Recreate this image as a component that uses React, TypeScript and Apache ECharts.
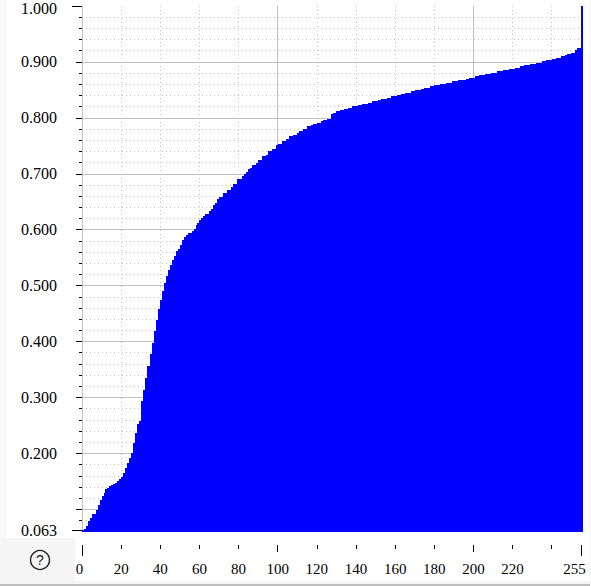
import React, { useEffect, useRef } from "react";
import * as echarts from "echarts";

// Cumulative level (index 0..255)
const levels: number[] = [
  0.063, 0.065, 0.07, 0.079, 0.084, 0.092, 0.092, 0.099, 0.108, 0.117,
  0.124, 0.129, 0.136, 0.138, 0.142, 0.143, 0.145, 0.147, 0.151, 0.154,
  0.158, 0.165, 0.174, 0.183, 0.192, 0.201, 0.218, 0.236, 0.252, 0.258,
  0.294, 0.313, 0.335, 0.356, 0.356, 0.378, 0.397, 0.419, 0.438, 0.458,
  0.474, 0.49, 0.505, 0.517, 0.528, 0.537, 0.546, 0.553, 0.562, 0.565,
  0.572, 0.581, 0.587, 0.59, 0.594, 0.594, 0.598, 0.601, 0.608, 0.612,
  0.617, 0.621, 0.624, 0.628, 0.628, 0.633, 0.637, 0.644, 0.648, 0.655,
  0.658, 0.658, 0.666, 0.666, 0.671, 0.671, 0.676, 0.682, 0.682, 0.691,
  0.691, 0.691, 0.696, 0.7, 0.703, 0.709, 0.71, 0.716, 0.716, 0.719,
  0.725, 0.725, 0.732, 0.732, 0.734, 0.741, 0.741, 0.744, 0.744, 0.751,
  0.753, 0.753, 0.758, 0.758, 0.762, 0.762, 0.767, 0.767, 0.769, 0.769,
  0.773, 0.776, 0.776, 0.78, 0.78, 0.785, 0.785, 0.787, 0.789, 0.789,
  0.791, 0.791, 0.794, 0.796, 0.796, 0.798, 0.798, 0.807, 0.809, 0.809,
  0.812, 0.812, 0.814, 0.814, 0.816, 0.816, 0.818, 0.818, 0.821, 0.821,
  0.821, 0.823, 0.823, 0.825, 0.825, 0.825, 0.826, 0.826, 0.83, 0.83,
  0.83, 0.832, 0.832, 0.834, 0.834, 0.834, 0.835, 0.835, 0.839, 0.839,
  0.839, 0.841, 0.841, 0.843, 0.843, 0.844, 0.844, 0.844, 0.848, 0.848,
  0.85, 0.85, 0.85, 0.852, 0.852, 0.853, 0.853, 0.853, 0.857, 0.857,
  0.859, 0.859, 0.859, 0.86, 0.86, 0.86, 0.862, 0.862, 0.862, 0.866,
  0.866, 0.866, 0.868, 0.868, 0.868, 0.868, 0.869, 0.869, 0.871, 0.871,
  0.871, 0.875, 0.875, 0.877, 0.877, 0.877, 0.878, 0.878, 0.878, 0.88,
  0.88, 0.88, 0.884, 0.884, 0.884, 0.885, 0.885, 0.885, 0.887, 0.887,
  0.887, 0.889, 0.889, 0.889, 0.893, 0.893, 0.894, 0.894, 0.894, 0.896,
  0.896, 0.896, 0.898, 0.898, 0.898, 0.902, 0.902, 0.903, 0.903, 0.903,
  0.905, 0.905, 0.907, 0.907, 0.907, 0.911, 0.911, 0.912, 0.914, 0.914,
  0.916, 0.916, 0.921, 0.925, 0.925, 1.0,
];

const yLabelValues = [0.063, 0.2, 0.3, 0.4, 0.5, 0.6, 0.7, 0.8, 0.9, 1.0];
const yEndTicks = [0.063, 1.0];
const yMajorTicks = [0.1, 0.2, 0.3, 0.4, 0.5, 0.6, 0.7, 0.8, 0.9];
const yMinorTicks = [
  0.08, 0.12, 0.14, 0.16, 0.18, 0.22, 0.24, 0.26, 0.28, 0.32, 0.34, 0.36, 0.38,
  0.42, 0.44, 0.46, 0.48, 0.52, 0.54, 0.56, 0.58, 0.62, 0.64, 0.66, 0.68, 0.72,
  0.74, 0.76, 0.78, 0.82, 0.84, 0.86, 0.88, 0.92, 0.94, 0.96, 0.98,
];
const xLabelValues = [0, 20, 40, 60, 80, 100, 120, 140, 160, 180, 200, 220, 255];
const xEndTicks = [0, 255];
const xMajorTicks = [0, 100, 200];
const xMinorTicks = [20, 40, 60, 80, 120, 140, 160, 180, 220, 240];

const FONT = "'Liberation Serif', serif";
const GRID = "#c0c0c0";
const BLUE = "#0000ff";

const hidden = { show: false };

function yAxisOf(ticks: number[], len: number, extra: any = {}) {
  return {
    type: "value",
    min: 0.063,
    max: 1,
    position: "left",
    offset: 14,
    axisLine: hidden,
    axisTick: { show: true, customValues: ticks, length: len, lineStyle: { color: "#000", width: 1 } },
    axisLabel: hidden,
    splitLine: hidden,
    ...extra,
  };
}

function xAxisOf(ticks: number[], len: number, extra: any = {}) {
  return {
    type: "value",
    min: 0,
    max: 256,
    position: "bottom",
    offset: 15,
    axisLine: hidden,
    axisTick: { show: true, customValues: ticks, length: len, lineStyle: { color: "#000", width: 1 } },
    axisLabel: hidden,
    splitLine: hidden,
    ...extra,
  };
}

export default function App() {
  const ref = useRef<HTMLDivElement>(null);
  useEffect(() => {
    const chart = echarts.init(ref.current!, null, { renderer: "svg" });
    chart.setOption({
      animation: false,
      backgroundColor: "#ffffff",
      grid: { left: 82, top: 6, width: 501, height: 524 },
      xAxis: [
        xAxisOf(xMinorTicks, 4, {
          splitLine: { show: true, lineStyle: { color: GRID, width: 1, type: [1, 3] } },
        }),
        xAxisOf(xMajorTicks, 7, {
          splitLine: { show: true, lineStyle: { color: GRID, width: 1 } },
        }),
        xAxisOf(xEndTicks, 11, {
          axisLabel: {
            show: true,
            customValues: xLabelValues,
            margin: 16,
            color: "#000",
            fontFamily: FONT,
            fontSize: 15,
            hideOverlap: false,
            formatter: (v: number) => (v === 255 ? `{r|${v}}` : v === 0 ? `{z|${v}}` : `${v}`),
            rich: {
              r: { padding: [0, 13, 0, 0], color: "#000", fontFamily: FONT, fontSize: 15 },
              z: { padding: [0, 5, 0, 0], color: "#000", fontFamily: FONT, fontSize: 15 },
            },
          },
        }),
      ],
      yAxis: [
        yAxisOf(yMinorTicks, 3, {
          splitLine: { show: true, lineStyle: { color: GRID, width: 1, type: [1, 3] } },
        }),
        yAxisOf(yMajorTicks, 6, {
          splitLine: { show: true, lineStyle: { color: GRID, width: 1 } },
        }),
        yAxisOf(yEndTicks, 10, {
          axisLabel: {
            show: true,
            customValues: yLabelValues,
            margin: 11,
            color: "#000",
            fontFamily: FONT,
            fontSize: 16,
            hideOverlap: false,
            formatter: (v: number) => (v === 1 ? `{t|${v.toFixed(3)}}` : v.toFixed(3)),
            rich: {
              t: { padding: [5, 0, 0, 0], color: "#000", fontFamily: FONT, fontSize: 16 },
            },
          },
        }),
      ],
      series: [
        {
          type: "custom",
          xAxisIndex: 0,
          yAxisIndex: 0,
          z: 5,
          silent: true,
          data: levels.map((v, i) => [i, v]),
          encode: { x: 0, y: 1 },
          clip: false,
          renderItem: (_p: any, api: any) => {
            const i = api.value(0);
            const top = api.coord([i, api.value(1)]);
            const right = api.coord([i + 1, 0.063]);
            const x0 = Math.round(top[0]);
            const y0 = Math.round(top[1]);
            return {
              type: "rect",
              shape: {
                x: x0,
                y: y0,
                width: Math.round(right[0]) - x0,
                height: Math.round(right[1]) + 2 - y0,
              },
              style: { fill: BLUE, stroke: "none" },
            };
          },
        },
      ],
      graphic: [
        { type: "rect", silent: true, shape: { x: 0, y: 0, width: 7, height: 586 }, style: { fill: "#f9f9f9" } },
        { type: "rect", silent: true, shape: { x: 0, y: 538, width: 75, height: 48 }, style: { fill: "#f5f5f5" } },
        { type: "rect", silent: true, shape: { x: 0, y: 581, width: 591, height: 5 }, style: { fill: "#f5f5f5" } },
        { type: "rect", silent: true, shape: { x: 0, y: 584, width: 591, height: 2 }, style: { fill: "#bdbdbd" } },
        { type: "rect", silent: true, shape: { x: 590, y: 0, width: 1, height: 586 }, style: { fill: "#f5f5f5" } },
        {
          type: "circle",
          silent: true,
          shape: { cx: 40, cy: 560, r: 9.5 },
          style: { fill: "none", stroke: "#222", lineWidth: 1.4 },
        },
        {
          type: "text",
          silent: true,
          x: 40,
          y: 560,
          style: {
            text: "?",
            fill: "#222",
            font: "14px 'Liberation Sans', sans-serif",
            textAlign: "center",
            textVerticalAlign: "middle",
          },
        },
      ],
    });
    return () => chart.dispose();
  }, []);
  return (
    <div
      ref={ref}
      style={{ position: "absolute", left: 0, top: 0, width: 591, height: 586 }}
    />
  );
}
